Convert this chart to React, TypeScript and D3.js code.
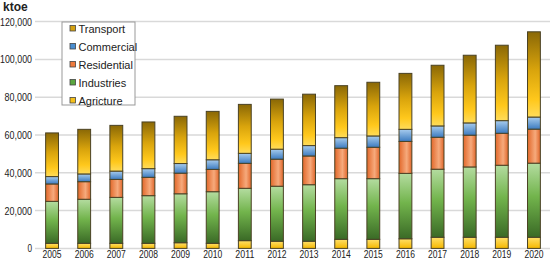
import React from "react";
import * as d3 from "d3";

const years = ["2005","2006","2007","2008","2009","2010","2011","2012","2013","2014","2015","2016","2017","2018","2019","2020"];
const agriculture = [2700,2700,2700,2700,3000,2700,4100,3800,3800,4800,4800,5100,5900,5900,5900,5900];
const industries = [22200,23300,24300,25200,25900,27300,27700,29100,29900,32100,32100,34600,36000,37200,38100,39200];
const residential = [9200,9300,9500,9700,10900,11800,13200,14300,15200,16100,16600,16900,16900,16800,16900,18000];
const commercial = [3900,4100,4400,4600,5100,5100,5300,5300,5500,5600,6000,6400,6000,6500,6700,6400];
const transport = [23100,23600,24200,24700,25000,25600,25900,26500,27200,27500,28400,29600,32100,35800,39900,45100];
const yTicks = [0,20000,40000,60000,80000,100000,120000];
const seriesNames = ["Agricture","Industries","Residential","Commercial","Transport"];
const seriesData = [agriculture, industries, residential, commercial, transport];

const W = 550, H = 260;
const left = 36, right = 550, top = 21.6, bottom = 248.4;

const fills = ["url(#gAgri)","url(#gInd)","url(#gRes)","url(#gCom)","url(#gTrans)"];
const legendColors = ["#f5c01a","#5aa640","#ee7a3c","#4a8ed0","#d4a010"];

export default function App() {
  const x = d3.scaleBand<string>().domain(years).range([left, right]).paddingInner(0.6).paddingOuter(0.3);
  const y = d3.scaleLinear().domain([0, 120000]).range([bottom, top]);
  const table = years.map((yr, i) => {
    const o: any = { year: yr };
    seriesNames.forEach((s, k) => (o[s] = seriesData[k][i]));
    return o;
  });
  const stacked = d3.stack<any>().keys(seriesNames)(table);
  const fmt = d3.format(",");
  const font = "'Liberation Sans', Arial, sans-serif";
  const legendOrder = [4, 3, 2, 1, 0];
  const charW = 32 / 7;
  return (
    <svg width={W} height={H} style={{ position: "absolute", left: 0, top: 0, background: "#fff" }} fontFamily={font}>
      <defs>
        <linearGradient id="gTrans" x1="0" y1="0" x2="0" y2="1">
          <stop offset="0" stopColor="#8a6806" />
          <stop offset="0.45" stopColor="#d9a40c" />
          <stop offset="0.8" stopColor="#ffc81c" />
          <stop offset="1" stopColor="#ffdc5a" />
        </linearGradient>
        <linearGradient id="gCom" x1="0" y1="0" x2="0" y2="1">
          <stop offset="0" stopColor="#a8ccee" />
          <stop offset="1" stopColor="#3c7bc0" />
        </linearGradient>
        <linearGradient id="gRes" x1="0" y1="0" x2="1" y2="0">
          <stop offset="0" stopColor="#e2682a" />
          <stop offset="0.6" stopColor="#f6aa7c" />
          <stop offset="1" stopColor="#e0662a" />
        </linearGradient>
        <linearGradient id="gInd" x1="0" y1="0" x2="0" y2="1">
          <stop offset="0" stopColor="#b4dca0" />
          <stop offset="0.45" stopColor="#72b44c" />
          <stop offset="1" stopColor="#3a6a26" />
        </linearGradient>
        <linearGradient id="gAgri" x1="0" y1="0" x2="0" y2="1">
          <stop offset="0" stopColor="#ffe06a" />
          <stop offset="1" stopColor="#f5b800" />
        </linearGradient>
      </defs>
      {yTicks.map((t) => {
        const label = fmt(t);
        return (
          <g key={t}>
            <line x1={35} x2={550} y1={y(t)} y2={y(t)} stroke="#d9d9d9" strokeWidth={1.5} />
            <text x={32} y={y(t) + 4} textAnchor="end" fontSize={10.5} fill="#222"
              textLength={label.length * charW} lengthAdjust="spacingAndGlyphs">{label}</text>
          </g>
        );
      })}
      <text x={3} y={11} fontSize={12} fontWeight="bold" fill="#222">ktoe</text>
      {stacked.map((layer, k) => (
        <g key={layer.key}>
          {layer.map((d, i) => (
            <rect key={i} x={x(years[i])!} width={x.bandwidth()} y={y(d[1])} height={y(d[0]) - y(d[1])}
              fill={fills[k]} stroke="#4a4224" strokeWidth={1} />
          ))}
        </g>
      ))}
      {years.map((yr) => (
        <text key={yr} x={x(yr)! + x.bandwidth() / 2} y={258} textAnchor="middle" fontSize={10} fill="#222"
          textLength={19} lengthAdjust="spacingAndGlyphs">{yr}</text>
      ))}
      <g>
        <rect x={62} y={22} width={73} height={83} fill="#fff" stroke="#999" strokeWidth={1} />
        {legendOrder.map((k, j) => (
          <g key={k}>
            <rect x={70} y={25.5 + j * 18} width={5.5} height={5.5} fill={legendColors[k]} stroke="#444" strokeWidth={0.8} />
            <text x={78.5} y={32.5 + j * 18} fontSize={11} fill="#222">{seriesNames[k]}</text>
          </g>
        ))}
      </g>
    </svg>
  );
}
